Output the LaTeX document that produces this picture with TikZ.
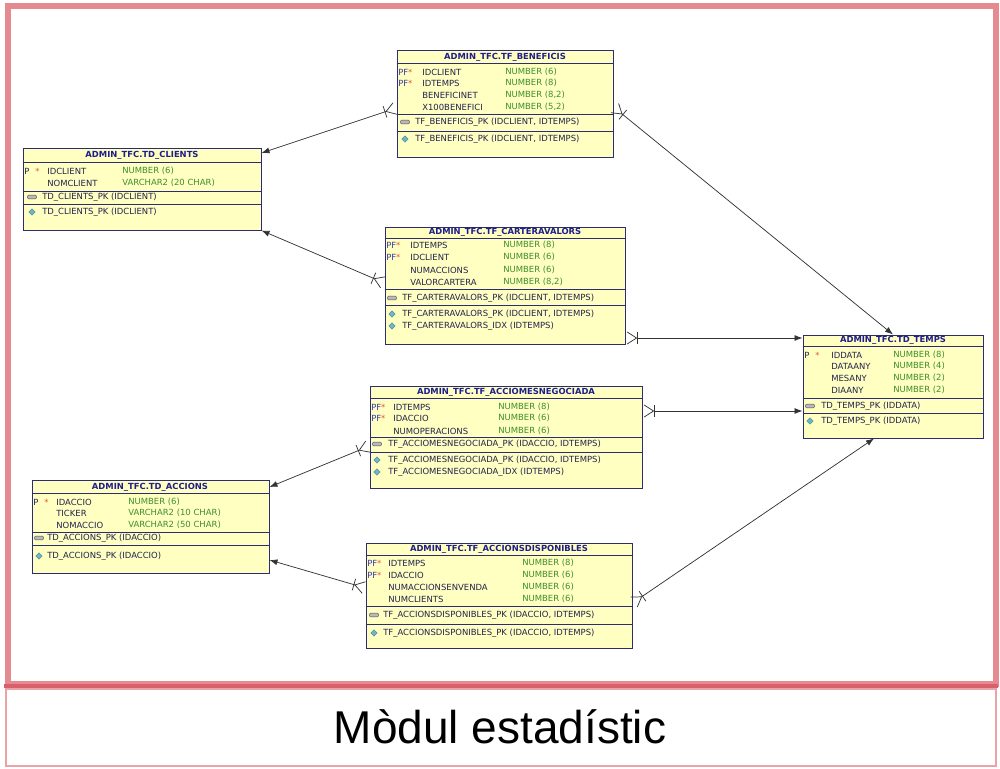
\documentclass[tikz,border=0pt]{standalone}
\usepackage{fontspec}
\setmainfont{Liberation Sans}
\newfontfamily\dbfont{DejaVu Sans}
\usetikzlibrary{arrows.meta,fit,shapes.geometric}

\definecolor{frameclr}{HTML}{E58A90}
\definecolor{splitclr}{HTML}{D9606B}
\definecolor{lowclr}{HTML}{EBA3A8}
\definecolor{tabfill}{HTML}{FFFFC2}
\definecolor{tabline}{HTML}{2C2C70}
\definecolor{ttlclr}{HTML}{1E1E90}
\definecolor{namclr}{HTML}{22224E}
\definecolor{typclr}{HTML}{3E8E2A}
\definecolor{pkclr}{HTML}{3838A8}
\definecolor{starclr}{HTML}{E0503A}
\definecolor{idxclr}{HTML}{6FB4C8}

\begin{document}
\begin{tikzpicture}[x=0.75pt,y=-0.75pt,
  tab/.style={draw=tabline,fill=tabfill,line width=0.75pt,inner sep=0pt},
  hdr/.style={font=\dbfont\fontsize{6.3}{7}\selectfont\bfseries,text=ttlclr,inner sep=0pt},
  fld/.style={font=\dbfont\fontsize{6.35}{7}\selectfont,text=namclr,anchor=west,inner sep=0pt},
  typ/.style={fld,text=typclr},
  pf/.style={fld,text=pkclr},
  keyic/.style={draw=gray!60!black,fill=gray!55,rounded corners=0.6pt,minimum width=6.5pt,minimum height=2.8pt,inner sep=0pt,line width=0.3pt},
  idxic/.style={diamond,draw=idxclr!60!black,fill=idxclr,line width=0.2pt,minimum size=5pt,inner sep=0pt},
  rel/.style={draw=black!80,line width=0.55pt,{Straight Barb[reversed,length=7pt,width=9pt,sep=1pt]Bar[width=9pt]}-{Latex[length=6pt,width=4.5pt]}}
]

\useasboundingbox (0,0) rectangle (1000,768);

% frame
\draw[frameclr,line width=4.5pt] (8,6) rectangle (996,684);
\draw[lowclr,line width=2pt] (6,689) rectangle (996,766);
\draw[splitclr,line width=2.5pt] (4,686) -- (998,686);
\node[anchor=base,font=\fontsize{34.5}{40}\selectfont] (title) at (500,743) {Mòdul estadístic};

% TF_BENEFICIS
\node[tab,fit={(397,50) (613,157)}] (benef) {};
\draw[tabline] (benef.west |- 0,63) -- (benef.east |- 0,63);
\draw[tabline] (benef.west |- 0,114) -- (benef.east |- 0,114);
\draw[tabline] (benef.west |- 0,131) -- (benef.east |- 0,131);
\node[hdr] (benefT) at (505,57) {ADMIN\_TFC.TF\_BENEFICIS};
\node[pf] (benefK1) at (398,72) {PF\textcolor{starclr}{*}};
\node[fld] (benefN1) at (422,72) {IDCLIENT};
\node[typ] (benefY1) at (505,72) {NUMBER (6)};
\node[pf] (benefK2) at (398,83) {PF\textcolor{starclr}{*}};
\node[fld] (benefN2) at (422,83) {IDTEMPS};
\node[typ] (benefY2) at (505,83) {NUMBER (8)};
\node[fld] (benefN3) at (422,95) {BENEFICINET};
\node[typ] (benefY3) at (505,95) {NUMBER (8,2)};
\node[fld] (benefN4) at (422,107) {X100BENEFICI};
\node[typ] (benefY4) at (505,107) {NUMBER (5,2)};
\node[keyic] (benefI1) at (405,122) {};
\node[fld] (benefC1) at (415,122) {TF\_BENEFICIS\_PK (IDCLIENT, IDTEMPS)};
\node[idxic] (benefI2) at (405,139) {};
\node[fld] (benefC2) at (415,139) {TF\_BENEFICIS\_PK (IDCLIENT, IDTEMPS)};

% TD_CLIENTS
\node[tab,fit={(23,148) (261,230)}] (clients) {};
\draw[tabline] (clients.west |- 0,162) -- (clients.east |- 0,162);
\draw[tabline] (clients.west |- 0,191) -- (clients.east |- 0,191);
\draw[tabline] (clients.west |- 0,204) -- (clients.east |- 0,204);
\node[hdr] (clientsT) at (142,155) {ADMIN\_TFC.TD\_CLIENTS};
\node[fld] (clientsK1) at (24,171) {P\hspace{4.5pt}\textcolor{starclr}{*}};
\node[fld] (clientsN1) at (47,171) {IDCLIENT};
\node[typ] (clientsY1) at (122,171) {NUMBER (6)};
\node[fld] (clientsN2) at (47,183) {NOMCLIENT};
\node[typ] (clientsY2) at (122,183) {VARCHAR2 (20 CHAR)};
\node[keyic] (clientsI1) at (32,197) {};
\node[fld] (clientsC1) at (42,197) {TD\_CLIENTS\_PK (IDCLIENT)};
\node[idxic] (clientsI2) at (32,212) {};
\node[fld] (clientsC2) at (42,212) {TD\_CLIENTS\_PK (IDCLIENT)};

% TF_CARTERAVALORS
\node[tab,fit={(385,227) (625,344)}] (carter) {};
\draw[tabline] (carter.west |- 0,238) -- (carter.east |- 0,238);
\draw[tabline] (carter.west |- 0,289) -- (carter.east |- 0,289);
\draw[tabline] (carter.west |- 0,305) -- (carter.east |- 0,305);
\node[hdr] (carterT) at (505,232) {ADMIN\_TFC.TF\_CARTERAVALORS};
\node[pf] (carterK1) at (386,245) {PF\textcolor{starclr}{*}};
\node[fld] (carterN1) at (410,245) {IDTEMPS};
\node[typ] (carterY1) at (503,245) {NUMBER (8)};
\node[pf] (carterK2) at (386,257) {PF\textcolor{starclr}{*}};
\node[fld] (carterN2) at (410,257) {IDCLIENT};
\node[typ] (carterY2) at (503,257) {NUMBER (6)};
\node[fld] (carterN3) at (410,270) {NUMACCIONS};
\node[typ] (carterY3) at (503,270) {NUMBER (6)};
\node[fld] (carterN4) at (410,282) {VALORCARTERA};
\node[typ] (carterY4) at (503,282) {NUMBER (8,2)};
\node[keyic] (carterI1) at (392,298) {};
\node[fld] (carterC1) at (402,298) {TF\_CARTERAVALORS\_PK (IDCLIENT, IDTEMPS)};
\node[idxic] (carterI2) at (392,314) {};
\node[fld] (carterC2) at (402,314) {TF\_CARTERAVALORS\_PK (IDCLIENT, IDTEMPS)};
\node[idxic] (carterI3) at (392,326) {};
\node[fld] (carterC3) at (402,326) {TF\_CARTERAVALORS\_IDX (IDTEMPS)};

% TD_TEMPS
\node[tab,fit={(803,335) (983,438)}] (temps) {};
\draw[tabline] (temps.west |- 0,346) -- (temps.east |- 0,346);
\draw[tabline] (temps.west |- 0,398) -- (temps.east |- 0,398);
\draw[tabline] (temps.west |- 0,413) -- (temps.east |- 0,413);
\node[hdr] (tempsT) at (893,340) {ADMIN\_TFC.TD\_TEMPS};
\node[fld] (tempsK1) at (804,355) {P\hspace{4.5pt}\textcolor{starclr}{*}};
\node[fld] (tempsN1) at (831,355) {IDDATA};
\node[typ] (tempsY1) at (893,355) {NUMBER (8)};
\node[fld] (tempsN2) at (831,366) {DATAANY};
\node[typ] (tempsY2) at (893,366) {NUMBER (4)};
\node[fld] (tempsN3) at (831,378) {MESANY};
\node[typ] (tempsY3) at (893,378) {NUMBER (2)};
\node[fld] (tempsN4) at (831,390) {DIAANY};
\node[typ] (tempsY4) at (893,390) {NUMBER (2)};
\node[keyic] (tempsI1) at (810,406) {};
\node[fld] (tempsC1) at (821,406) {TD\_TEMPS\_PK (IDDATA)};
\node[idxic] (tempsI2) at (810,421) {};
\node[fld] (tempsC2) at (821,421) {TD\_TEMPS\_PK (IDDATA)};

% TF_ACCIOMESNEGOCIADA
\node[tab,fit={(370,386) (642,488)}] (accneg) {};
\draw[tabline] (accneg.west |- 0,398) -- (accneg.east |- 0,398);
\draw[tabline] (accneg.west |- 0,437) -- (accneg.east |- 0,437);
\draw[tabline] (accneg.west |- 0,452) -- (accneg.east |- 0,452);
\node[hdr] (accnegT) at (506,392) {ADMIN\_TFC.TF\_ACCIOMESNEGOCIADA};
\node[pf] (accnegK1) at (371,407) {PF\textcolor{starclr}{*}};
\node[fld] (accnegN1) at (393,407) {IDTEMPS};
\node[typ] (accnegY1) at (498,407) {NUMBER (8)};
\node[pf] (accnegK2) at (371,418) {PF\textcolor{starclr}{*}};
\node[fld] (accnegN2) at (393,418) {IDACCIO};
\node[typ] (accnegY2) at (498,418) {NUMBER (6)};
\node[fld] (accnegN3) at (393,431) {NUMOPERACIONS};
\node[typ] (accnegY3) at (498,431) {NUMBER (6)};
\node[keyic] (accnegI1) at (377,444) {};
\node[fld] (accnegC1) at (388,444) {TF\_ACCIOMESNEGOCIADA\_PK (IDACCIO, IDTEMPS)};
\node[idxic] (accnegI2) at (377,460) {};
\node[fld] (accnegC2) at (388,460) {TF\_ACCIOMESNEGOCIADA\_PK (IDACCIO, IDTEMPS)};
\node[idxic] (accnegI3) at (377,472) {};
\node[fld] (accnegC3) at (388,472) {TF\_ACCIOMESNEGOCIADA\_IDX (IDTEMPS)};

% TD_ACCIONS
\node[tab,fit={(32,480) (269,573)}] (accions) {};
\draw[tabline] (accions.west |- 0,493) -- (accions.east |- 0,493);
\draw[tabline] (accions.west |- 0,532) -- (accions.east |- 0,532);
\draw[tabline] (accions.west |- 0,545) -- (accions.east |- 0,545);
\node[hdr] (accionsT) at (150,487) {ADMIN\_TFC.TD\_ACCIONS};
\node[fld] (accionsK1) at (33,502) {P\hspace{4.5pt}\textcolor{starclr}{*}};
\node[fld] (accionsN1) at (56,502) {IDACCIO};
\node[typ] (accionsY1) at (128,502) {NUMBER (6)};
\node[fld] (accionsN2) at (56,513) {TICKER};
\node[typ] (accionsY2) at (128,513) {VARCHAR2 (10 CHAR)};
\node[fld] (accionsN3) at (56,525) {NOMACCIO};
\node[typ] (accionsY3) at (128,525) {VARCHAR2 (50 CHAR)};
\node[keyic] (accionsI1) at (39,538) {};
\node[fld] (accionsC1) at (47,538) {TD\_ACCIONS\_PK (IDACCIO)};
\node[idxic] (accionsI2) at (39,556) {};
\node[fld] (accionsC2) at (47,556) {TD\_ACCIONS\_PK (IDACCIO)};

% TF_ACCIONSDISPONIBLES
\node[tab,fit={(366,543) (632,648)}] (accdisp) {};
\draw[tabline] (accdisp.west |- 0,555) -- (accdisp.east |- 0,555);
\draw[tabline] (accdisp.west |- 0,606) -- (accdisp.east |- 0,606);
\draw[tabline] (accdisp.west |- 0,624) -- (accdisp.east |- 0,624);
\node[hdr] (accdispT) at (499,549) {ADMIN\_TFC.TF\_ACCIONSDISPONIBLES};
\node[pf] (accdispK1) at (367,563) {PF\textcolor{starclr}{*}};
\node[fld] (accdispN1) at (388,563) {IDTEMPS};
\node[typ] (accdispY1) at (522,563) {NUMBER (8)};
\node[pf] (accdispK2) at (367,575) {PF\textcolor{starclr}{*}};
\node[fld] (accdispN2) at (388,575) {IDACCIO};
\node[typ] (accdispY2) at (522,575) {NUMBER (6)};
\node[fld] (accdispN3) at (388,587) {NUMACCIONSENVENDA};
\node[typ] (accdispY3) at (522,587) {NUMBER (6)};
\node[fld] (accdispN4) at (388,599) {NUMCLIENTS};
\node[typ] (accdispY4) at (522,599) {NUMBER (6)};
\node[keyic] (accdispI1) at (374,615) {};
\node[fld] (accdispC1) at (383,615) {TF\_ACCIONSDISPONIBLES\_PK (IDACCIO, IDTEMPS)};
\node[idxic] (accdispI2) at (374,633) {};
\node[fld] (accdispC2) at (383,633) {TF\_ACCIONSDISPONIBLES\_PK (IDACCIO, IDTEMPS)};

% relations
\draw[rel] (benef.west |- 0,108) -- (clients.east |- 0,153);
\draw[rel] (benef.east |- 0,107) -- (temps.north -| 893,0);
\draw[rel] (carter.west |- 0,283) -- (clients.south east);
\draw[rel] (carter.east |- 0,338) -- (temps.west |- 0,338);
\draw[rel] (accneg.east |- 0,411) -- (temps.west |- 0,411);
\draw[rel] (accneg.west |- 0,446) -- (accions.east |- 0,487);
\draw[rel] (accdisp.west |- 0,588) -- (accions.east |- 0,560);
\draw[rel] (accdisp.east |- 0,603) -- (temps.south -| 874,0);

\end{tikzpicture}
\end{document}
